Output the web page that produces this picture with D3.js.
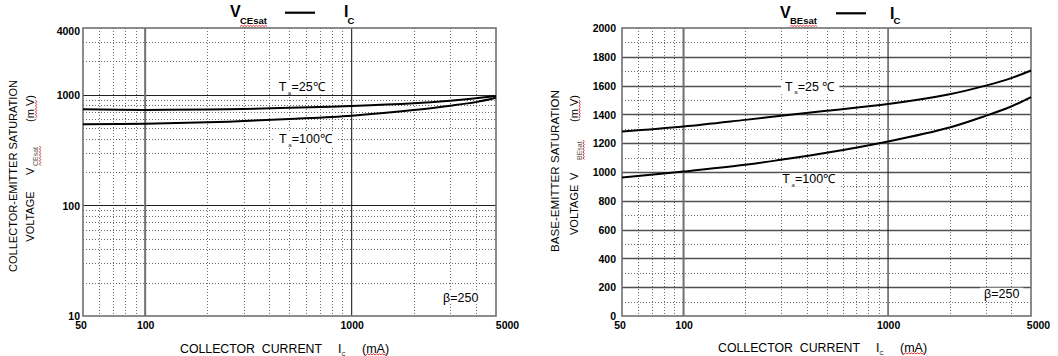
<!DOCTYPE html>
<html><head><meta charset="utf-8">
<script src="https://cdn.jsdelivr.net/npm/d3@7"></script>
<style>
body{margin:0;background:#fff;}
svg{display:block;font-family:"Liberation Sans",Arial,sans-serif;}
</style></head><body>
<svg id="c" width="1058" height="356"></svg>
<script>
// ---- data ----
const currents = [50, 100, 200, 300, 500, 1000, 2000, 3000, 4000, 5000];
const vce25  = [736, 728, 733, 742, 760, 789, 836, 882, 926, 971];
const vce100 = [539, 546, 562, 577, 603, 646, 726, 794, 856, 937];
const vbe25  = [1281, 1316, 1362, 1390, 1425, 1472, 1540, 1600, 1652, 1705];
const vbe100 = [961, 1003, 1050, 1085, 1133, 1212, 1309, 1390, 1455, 1520];
const xTickLabels = [50, 100, 1000, 5000];
const xMajorGrid = [100, 1000];
const xMinorGrid = [60, 70, 80, 90, 200, 300, 400, 500, 600, 700, 800, 900, 2000, 3000, 4000];
const vceTickLabels = [10, 100, 1000, 4000];
const vceMajorGrid = [100, 1000];
const vceMinorGrid = [20, 30, 40, 50, 60, 70, 80, 90, 200, 300, 400, 500, 600, 700, 800, 900, 2000, 3000];
const vbeTickLabels = [0, 200, 400, 600, 800, 1000, 1200, 1400, 1600, 1800, 2000];
const vbeMajorGrid = [200, 400, 600, 800, 1000, 1200, 1400, 1600, 1800];
const vbeMinorGrid = [100, 300, 500, 700, 900, 1100, 1300, 1500, 1700, 1900];
const seriesNames = ["25", "100"];

const svg = d3.select("#c");
const TOP = 28, BOT = 316;

function rtext(g, sx, sy, txt, size, extra) {
  const t = g.append("text").attr("transform", `translate(${sx},${sy}) rotate(-90)`)
    .attr("font-size", size).attr("fill", "#000").text(txt);
  if (extra) extra(t);
  return t;
}
function squiggleH(g, x0, x1, y) {
  let d = `M${x0},${y}`; let up = true;
  for (let x = x0 + 1.5; x <= x1; x += 1.5) { d += `L${x},${y + (up ? -1.2 : 0)}`; up = !up; }
  g.append("path").attr("d", d).attr("fill", "none").attr("stroke", "#e02020").attr("stroke-width", 0.9);
}
function squiggleV(g, x, y0, y1) {
  let d = `M${x},${y0}`; let up = true;
  for (let y = y0 + 1.5; y <= y1; y += 1.5) { d += `L${x + (up ? 1.2 : 0)},${y}`; up = !up; }
  g.append("path").attr("d", d).attr("fill", "none").attr("stroke", "#e02020").attr("stroke-width", 0.9);
}

function panel(cfg) {
  const g = svg.append("g");
  const x = d3.scaleLog().domain([50, 5000]).range([cfg.x0, cfg.x1]);
  const y = cfg.ylog ? d3.scaleLog().domain(cfg.ydom).range([BOT, TOP])
                     : d3.scaleLinear().domain(cfg.ydom).range([BOT, TOP]);
  const grid = g.append("g");
  // dotted minor grid
  grid.selectAll(".vm").data(xMinorGrid).join("line")
    .attr("x1", d => Math.round(x(d)) + 0.5).attr("x2", d => Math.round(x(d)) + 0.5).attr("y1", TOP).attr("y2", BOT)
    .attr("stroke", "#6a6a6a").attr("stroke-width", 1).attr("stroke-dasharray", "1,2");
  grid.selectAll(".hm").data(cfg.yMinor).join("line")
    .attr("x1", cfg.x0).attr("x2", cfg.x1).attr("y1", d => Math.round(y(d)) + 0.5).attr("y2", d => Math.round(y(d)) + 0.5)
    .attr("stroke", "#6a6a6a").attr("stroke-width", 1).attr("stroke-dasharray", "1,2");
  // major grid
  grid.selectAll(".hM").data(cfg.yMajor).join("line")
    .attr("x1", cfg.x0).attr("x2", cfg.x1).attr("y1", d => Math.round(y(d)) + 0.5).attr("y2", d => Math.round(y(d)) + 0.5)
    .attr("stroke", cfg.hMajorColor).attr("stroke-width", cfg.hMajorWidth);
  grid.selectAll(".vM").data(xMajorGrid).join("line")
    .attr("x1", d => x(d)).attr("x2", d => x(d)).attr("y1", TOP).attr("y2", BOT)
    .attr("stroke", (d, i) => i === 0 ? "#707070" : "#202020")
    .attr("stroke-width", (d, i) => i === 0 ? 2 : 1.1);
  // frame
  g.append("rect").attr("x", cfg.x0).attr("y", TOP).attr("width", cfg.x1 - cfg.x0).attr("height", BOT - TOP)
    .attr("fill", "none").attr("stroke", "#707070").attr("stroke-width", 1.6);

  // axes (labels only)
  const xa = g.append("g").attr("transform", `translate(0,${BOT})`)
    .call(d3.axisBottom(x).tickValues(xTickLabels).tickFormat(d3.format("d")).tickSize(0).tickPadding(6));
  xa.select(".domain").remove();
  xa.selectAll("text").attr("font-size", 10.5).attr("font-weight", "bold").attr("fill", "#000")
    .attr("font-family", "Liberation Sans, Arial, sans-serif")
    .attr("dx", d => d === 5000 ? cfg.lastDx : (d === 50 ? -2.5 : 0));
  const ya = g.append("g").attr("transform", `translate(${cfg.x0},0)`)
    .call(d3.axisLeft(y).tickValues(cfg.yTicks).tickFormat(d3.format("d")).tickSize(0).tickPadding(cfg.yPad));
  ya.select(".domain").remove();
  ya.selectAll("text").attr("font-size", 10.5).attr("font-weight", "bold").attr("fill", "#000")
    .attr("font-family", "Liberation Sans, Arial, sans-serif")
    .attr("dy", d => (d === cfg.ydom[1] && cfg.ylog) ? "0.62em" : "0.36em");

  // curves
  const line = d3.line().x(d => x(d[0])).y(d => y(d[1])).curve(d3.curveCatmullRom.alpha(0.5));
  cfg.series.forEach(s => {
    g.append("path").datum(currents.map((c, i) => [c, s[i]])).attr("d", line)
      .attr("fill", "none").attr("stroke", "#000").attr("stroke-width", 2);
  });

  // labels with white backgrounds
  const labG = g.append("g");
  cfg.labels.forEach(L => {
    const lg = labG.append("g");
    const bg = lg.append("rect").attr("fill", "#fff");
    const t = lg.append("text").attr("x", L.x).attr("y", L.y).attr("font-size", 12.5).attr("fill", "#000");
    if (L.name) {
      t.append("tspan").text("T");
      t.append("tspan").attr("font-size", 6).attr("fill", "#333").attr("dy", 3.5).attr("dx", 1.5).text("a");
      t.append("tspan").attr("dy", -3.5).attr("dx", 0.2).text("=" + L.name + L.unit);
    } else {
      t.text(L.text);
    }
    const b = t.node().getBBox();
    bg.attr("x", b.x - 4).attr("y", b.y + 1).attr("width", b.width + 8).attr("height", b.height - 2);
  });

  // title
  const tg = g.append("g").attr("font-weight", "bold");
  tg.append("text").attr("x", cfg.tV).attr("y", cfg.tVy).attr("font-size", 16).text("V");
  tg.append("text").attr("x", cfg.tV + 10).attr("y", 24).attr("font-size", 9.5).text(cfg.sub);
  squiggleH(g, cfg.tV + 10, cfg.tV + 37, 26.5);
  tg.append("line").attr("x1", cfg.tD).attr("x2", cfg.tD + 30).attr("y1", cfg.tDy).attr("y2", cfg.tDy)
    .attr("stroke", "#000").attr("stroke-width", 2.2);
  tg.append("text").attr("x", cfg.tI).attr("y", cfg.tVy + 0.5).attr("font-size", 16).text("I");
  tg.append("text").attr("x", cfg.tI + 3.5).attr("y", 24).attr("font-size", 9.5).text("C");

  // x axis title
  const xt = g.append("g");
  xt.append("text").attr("x", cfg.xtX).attr("y", cfg.xtY).attr("font-size", 12.5)
    .attr("textLength", 142).attr("lengthAdjust", "spacingAndGlyphs").attr("xml:space", "preserve")
    .text("COLLECTOR  CURRENT");
  xt.append("text").attr("x", cfg.xtX + 158).attr("y", cfg.xtY).attr("font-size", 12.5).text("I");
  xt.append("text").attr("x", cfg.xtX + 161.5).attr("y", cfg.xtY + 3.5).attr("font-size", 5.5).text("C");
  xt.append("text").attr("x", cfg.xtX + 182).attr("y", cfg.xtY).attr("font-size", 12.5).text("(mA)");
  squiggleH(g, cfg.xtX + 186, cfg.xtX + 207, cfg.xtY + 2.5);

  // y axis title (rotated)
  const yt = g.append("g");
  rtext(yt, cfg.yt1X, cfg.yt1Y, cfg.yTitle1, 11, t => t.attr("textLength", cfg.yt1L).attr("lengthAdjust", "spacingAndGlyphs"));
  rtext(yt, cfg.yt2X, cfg.yt2Y, "VOLTAGE", 11);
  rtext(yt, cfg.yt2X, cfg.ytVY, "V", 11);
  rtext(yt, cfg.yt2X + 4, cfg.ytSY, cfg.sub, 7, t => t.attr("fill", "#555"));
  squiggleV(yt, cfg.yt2X + 5.5, cfg.ytSY - 20, cfg.ytSY);
  rtext(yt, cfg.yt2X, cfg.ytMY, "(m V)", 11, t => t.attr("xml:space", "preserve"));
  squiggleV(yt, cfg.yt2X + 1.5, cfg.ytMY - 22, cfg.ytMY - 4);
}

panel({
  x0: 83, x1: 496, ylog: true, ydom: [10, 4000],
  yTicks: vceTickLabels, yMajor: vceMajorGrid, yMinor: vceMinorGrid,
  hMajorColor: "#202020", hMajorWidth: 1.1, yPad: 3, lastDx: 11,
  series: [vce25, vce100],
  labels: [
    { x: 278.7, y: 91, name: seriesNames[0], unit: "℃" },
    { x: 279, y: 143, name: seriesNames[1], unit: "℃" },
    { x: 443, y: 301.5, text: "β=250" }
  ],
  sub: "CEsat", tV: 230, tVy: 16.7, tD: 285, tDy: 12.7, tI: 344,
  xtX: 180, xtY: 352.5,
  yTitle1: "COLLECTOR-EMITTER SATURATION", yt1X: 17, yt1Y: 272, yt1L: 192,
  yt2X: 34, yt2Y: 241.7, ytVY: 175, ytSY: 166, ytMY: 122
});

panel({
  x0: 622, x1: 1031, ylog: false, ydom: [0, 2000],
  yTicks: vbeTickLabels, yMajor: vbeMajorGrid, yMinor: vbeMinorGrid,
  hMajorColor: "#505050", hMajorWidth: 1.6, yPad: 6, lastDx: 7,
  series: [vbe25, vbe100],
  labels: [
    { x: 785, y: 90.7, name: seriesNames[0], unit: " ℃" },
    { x: 782.3, y: 183.3, name: seriesNames[1], unit: "℃" },
    { x: 984, y: 297.7, text: "β=250" }
  ],
  sub: "BEsat", tV: 780, tVy: 18.3, tD: 836, tDy: 13.3, tI: 890,
  xtX: 718, xtY: 351.5,
  yTitle1: "BASE-EMITTER SATURATION", yt1X: 559, yt1Y: 252, yt1L: 162,
  yt2X: 577.5, yt2Y: 235, ytVY: 180, ytSY: 160, ytMY: 122
});
</script>
</body></html>
